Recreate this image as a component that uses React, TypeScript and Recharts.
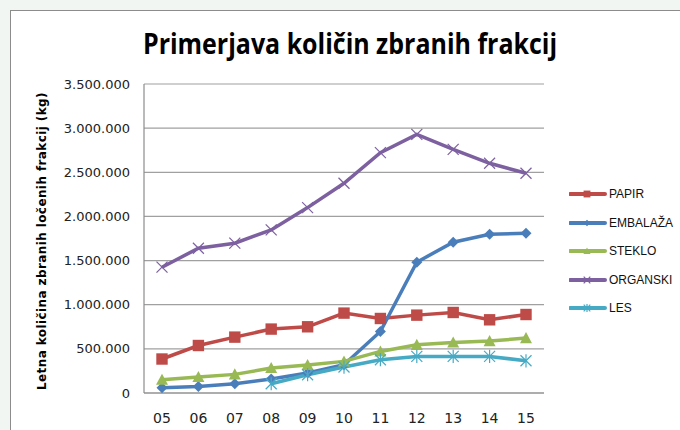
import { LineChart, Line, XAxis, YAxis, CartesianGrid } from 'recharts';

const years = ['05', '06', '07', '08', '09', '10', '11', '12', '13', '14', '15'];
const papir = [385000, 538000, 633000, 724000, 750000, 905000, 844000, 882000, 912000, 829000, 889000];
const embalaza = [60000, 75000, 105000, 158000, 226000, 320000, 697000, 1482000, 1708000, 1799000, 1810000];
const steklo = [150000, 181000, 211000, 283000, 317000, 358000, 471000, 546000, 572000, 588000, 622000];
const organski = [1425000, 1640000, 1697000, 1847000, 2100000, 2376000, 2722000, 2930000, 2760000, 2602000, 2489000];
const les = [null, null, null, 105000, 207000, 294000, 377000, 414000, 414000, 414000, 365000];

const yTicks = [0, 500000, 1000000, 1500000, 2000000, 2500000, 3000000, 3500000];

const series = [
  { key: 'papir', name: 'PAPIR', color: '#be4b48', shape: 'square' },
  { key: 'embalaza', name: 'EMBALAŽA', color: '#4a7ebb', shape: 'diamond' },
  { key: 'steklo', name: 'STEKLO', color: '#98b954', shape: 'triangle' },
  { key: 'organski', name: 'ORGANSKI', color: '#7d60a0', shape: 'x' },
  { key: 'les', name: 'LES', color: '#46aac5', shape: 'star' },
];

const data = years.map((y, i) => ({
  year: y,
  papir: papir[i],
  embalaza: embalaza[i],
  steklo: steklo[i],
  organski: organski[i],
  les: les[i],
}));

const fmt = (n: number) => String(n).replace(/\B(?=(\d{3})+(?!\d))/g, '.');

function Marker({ shape, color, cx, cy, s = 1 }: any) {
  if (shape === 'square') {
    const h = 5.7 * s;
    return <rect x={cx - h} y={cy - h} width={h * 2} height={h * 2} fill={color} />;
  }
  if (shape === 'diamond') {
    const h = 5.5 * s;
    return <polygon points={`${cx},${cy - h} ${cx + h},${cy} ${cx},${cy + h} ${cx - h},${cy}`} fill={color} />;
  }
  if (shape === 'triangle') {
    const h = 6 * s;
    return <polygon points={`${cx},${cy - h} ${cx + h},${cy + h * 0.85} ${cx - h},${cy + h * 0.85}`} fill={color} />;
  }
  const h = 5.5 * s;
  return (
    <g stroke={color} strokeWidth={1.2}>
      <line x1={cx - h} y1={cy - h} x2={cx + h} y2={cy + h} />
      <line x1={cx - h} y1={cy + h} x2={cx + h} y2={cy - h} />
      {shape === 'star' && <line x1={cx} y1={cy - h * 1.2} x2={cx} y2={cy + h * 1.2} />}
    </g>
  );
}

const makeDot = (shape: string, color: string) => (props: any) => {
  const { cx, cy, value, index } = props;
  if (value == null || cx == null || cy == null) return <g key={index} />;
  return (
    <g key={index}>
      <Marker shape={shape} color={color} cx={cx} cy={cy} />
    </g>
  );
};

const YLabel = () => (
  <text
    x={0}
    y={0}
    transform="translate(46,241) rotate(-90)"
    textAnchor="middle"
    fontFamily="DejaVu Sans"
    fontWeight="bold"
    fontSize={12}
    letterSpacing={0.4}
    fill="#000"
  >
    Letna količina zbranih ločenih frakcij (kg)
  </text>
);

export default function App() {
  return (
    <div style={{ position: 'absolute', left: 0, top: 0, width: 680, height: 430, overflow: 'hidden', background: '#f1f6f2' }}>
      <div style={{ position: 'absolute', left: 10, top: 10, width: 700, height: 450, background: '#fff', border: '1px solid #8c8c8c' }} />
      <svg style={{ position: 'absolute', left: 0, top: 0 }} width={680} height={80}>
        <text x={143} y={54} fontFamily="Open Sans" fontWeight="bold" fontSize={28} textLength={414} lengthAdjust="spacingAndGlyphs" fill="#000">
          Primerjava količin zbranih frakcij
        </text>
      </svg>
      <div style={{ position: 'absolute', left: 0, top: 0 }}>
        <LineChart width={680} height={430} data={data} margin={{ top: 84, right: 136, bottom: 7, left: 64 }}>
          <CartesianGrid vertical={false} stroke="#a0a0a0" strokeWidth={1.2} />
          <XAxis
            dataKey="year"
            padding={{ left: 18, right: 18 }}
            axisLine={{ stroke: '#8c8c8c', strokeWidth: 1.2 }}
            tickLine={false}
            height={30}
            tick={{ fill: '#222', fontSize: 14, fontFamily: 'DejaVu Sans' }}
            tickMargin={14}
          />
          <YAxis
            domain={[0, 3500000]}
            ticks={yTicks}
            width={80}
            tickFormatter={fmt}
            axisLine={{ stroke: '#8c8c8c', strokeWidth: 1.2 }}
            tickLine={false}
            tick={{ fill: '#222', fontSize: 13, fontFamily: 'DejaVu Sans' }}
            tickMargin={8}
            label={<YLabel />}
          />
          {series.map((s) => (
            <Line
              key={s.key}
              dataKey={s.key}
              name={s.name}
              stroke={s.color}
              strokeWidth={3.5}
              type="linear"
              dot={makeDot(s.shape, s.color)}
              activeDot={false}
              isAnimationActive={false}
            />
          ))}
        </LineChart>
      </div>
      <div style={{ position: 'absolute', left: 569, top: 180 }}>
        {series.map((s) => (
          <div key={s.key} style={{ display: 'flex', alignItems: 'center', height: 28.5 }}>
            <svg width={38} height={14}>
              <line x1={1} y1={7} x2={36} y2={7} stroke={s.color} strokeWidth={4} strokeLinecap="round" />
              <Marker shape={s.shape} color={s.color} cx={18} cy={7} s={0.6} />
            </svg>
            <span style={{ marginLeft: 2, fontFamily: 'Liberation Sans', fontSize: 12, color: '#111' }}>{s.name}</span>
          </div>
        ))}
      </div>
    </div>
  );
}
